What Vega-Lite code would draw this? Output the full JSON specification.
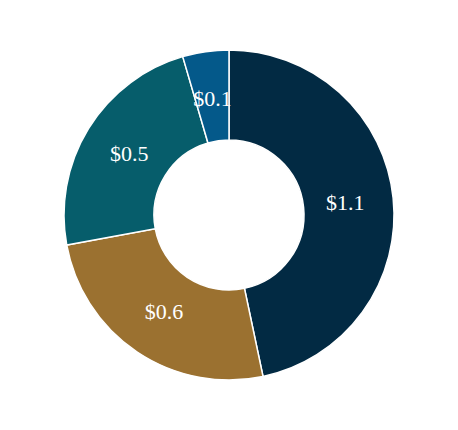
{
  "$schema": "https://vega.github.io/schema/vega-lite/v6.json",
  "width": 458,
  "height": 430,
  "autosize": {"type": "fit", "contains": "padding"},
  "padding": 0,
  "background": "white",
  "view": {"stroke": null},
  "data": {"values": [
    {"k": 1, "cat": "A", "value": 1.074, "label": "$1.1"},
    {"k": 2, "cat": "B", "value": 0.584, "label": "$0.6"},
    {"k": 3, "cat": "C", "value": 0.538, "label": "$0.5"},
    {"k": 4, "cat": "D", "value": 0.104, "label": "$0.1"}
  ]},
  "encoding": {
    "theta": {"field": "value", "type": "quantitative", "stack": true},
    "order": {"field": "k", "type": "quantitative"},
    "color": {"field": "cat", "type": "nominal", "legend": null,
      "scale": {"domain": ["A", "B", "C", "D"], "range": ["#022a43", "#9b7130", "#065d6b", "#04598a"]}}
  },
  "layer": [
    {"mark": {"type": "arc", "innerRadius": 75, "outerRadius": 165, "stroke": "white", "strokeWidth": 1.5}},
    {"mark": {"type": "text", "radius": 117, "font": "Liberation Serif", "fontSize": 22, "fill": "white"},
     "encoding": {"text": {"field": "label"}, "color": {"value": "white"}}}
  ]
}
